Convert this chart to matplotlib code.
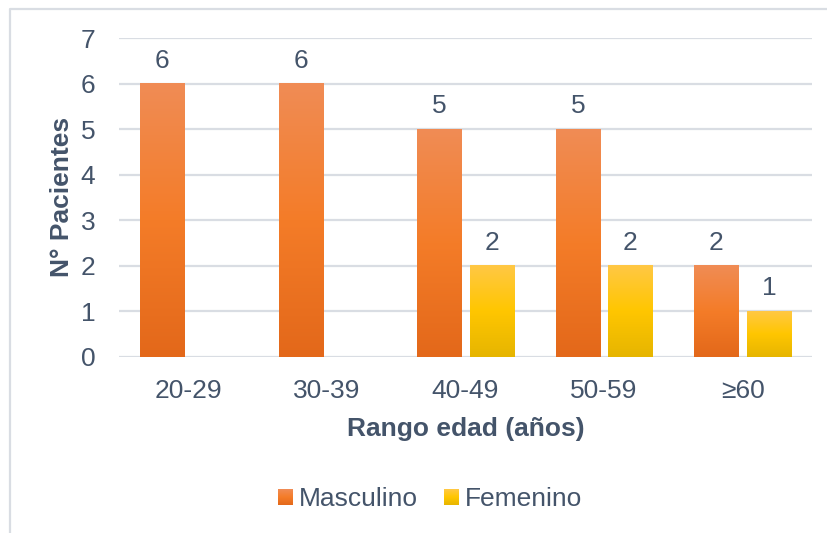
import numpy as np
import matplotlib
matplotlib.use("Agg")
import matplotlib.pyplot as plt
from matplotlib.colors import LinearSegmentedColormap
from matplotlib.lines import Line2D
from matplotlib.legend_handler import HandlerBase
import matplotlib.patches as mpatches

# data
categories = ["20-29", "30-39", "40-49", "50-59", "\u226560"]
masculino = [6, 6, 5, 5, 2]
femenino = [0, 0, 2, 2, 1]
series_names = ["Masculino", "Femenino"]

TEXT = "#44546A"
GRID = "#D9DDE3"

plt.rcParams["font.family"] = ["Liberation Sans", "DejaVu Sans"]
plt.rcParams["font.size"] = 19

orange_cmap = LinearSegmentedColormap.from_list(
    "orange", [(0, "#E3681A"), (0.5, "#F47C28"), (1, "#F08C55")]
)
yellow_cmap = LinearSegmentedColormap.from_list(
    "yellow", [(0, "#E6B500"), (0.5, "#FFC600"), (1, "#FFC845")]
)


def gradient_bars(ax, bars, cmap):
    grad = np.linspace(1, 0, 256).reshape(-1, 1)
    for bar in bars:
        x, y = bar.get_xy()
        w, h = bar.get_width(), bar.get_height()
        bar.set_facecolor("none")
        if h <= 0:
            continue
        ax.imshow(grad, extent=(x, x + w, y, y + h), cmap=cmap, vmin=0, vmax=1,
                  aspect="auto", origin="upper", zorder=2, interpolation="bilinear")


class GradientHandler(HandlerBase):
    # legend square drawn as thin strips so it fades like the bars
    def __init__(self, cmap, n=16):
        super().__init__()
        self.cmap = cmap
        self.n = n

    def create_artists(self, legend, orig_handle, xdescent, ydescent,
                       width, height, fontsize, trans):
        artists = []
        step = height / self.n
        for i in range(self.n):
            frac = (i + 0.5) / self.n
            r = mpatches.Rectangle((-xdescent, -ydescent + i * step), width,
                                   step * 1.05, facecolor=self.cmap(frac),
                                   edgecolor="none", transform=trans)
            artists.append(r)
        return artists


W, H = 827, 533
fig = plt.figure(figsize=(W / 100, H / 100), dpi=100)
ax = fig.add_axes([119 / W, 1 - 357 / H, 693 / W, (357 - 38) / H])

x = np.arange(len(categories))
width = 0.318
off = 0.19
bars_m = ax.bar(x - off, masculino, width, linewidth=0, zorder=2)
bars_f = ax.bar(x + off, femenino, width, linewidth=0, zorder=2)
gradient_bars(ax, bars_m, orange_cmap)
gradient_bars(ax, bars_f, yellow_cmap)

for bars, vals in ((bars_m, masculino), (bars_f, femenino)):
    for bar, v in zip(bars, vals):
        if v == 0:
            continue
        ax.annotate(str(v), (bar.get_x() + bar.get_width() / 2, v),
                    xytext=(0, 11.5), textcoords="offset points",
                    ha="center", va="baseline", color=TEXT, zorder=5)

ax.set_xlim(-0.5, len(categories) - 0.5)
ax.set_ylim(0, 7)
ax.set_yticks(range(0, 8))
ax.set_xticks(x, categories)
for s in ax.spines.values():
    s.set_visible(False)
ax.set_axisbelow(True)
ax.grid(axis="y", color=GRID, linewidth=1.6)
ax.tick_params(axis="both", length=0, colors=TEXT, labelsize=19)
ax.tick_params(axis="y", pad=17)
ax.tick_params(axis="x", pad=16)

ax.set_xlabel("Rango edad (años)", fontweight="bold", color=TEXT, labelpad=10)
fig.text(62 / W, 1 - 197 / H, "N° Pacientes", rotation=90, ha="center",
         va="center", fontweight="bold", color=TEXT)

h_m = mpatches.Patch(facecolor="#F27F35", label=series_names[0])
h_f = mpatches.Patch(facecolor="#FFC618", label=series_names[1])
fig.legend(handles=[h_m, h_f], loc="center",
           bbox_to_anchor=(430 / W, 1 - 499 / H),
           ncol=2, frameon=False, handlelength=0.57, handleheight=0.55,
           handletextpad=0.2, columnspacing=1.0, labelcolor=TEXT,
           handler_map={h_m: GradientHandler(orange_cmap),
                        h_f: GradientHandler(yellow_cmap)})

# chart border
fig.add_artist(Line2D([9.5 / W, 9.5 / W, 1], [0, 1 - 8.5 / H, 1 - 8.5 / H],
                      transform=fig.transFigure, color=GRID, linewidth=1.6))

fig.savefig("out.png", dpi=100)
